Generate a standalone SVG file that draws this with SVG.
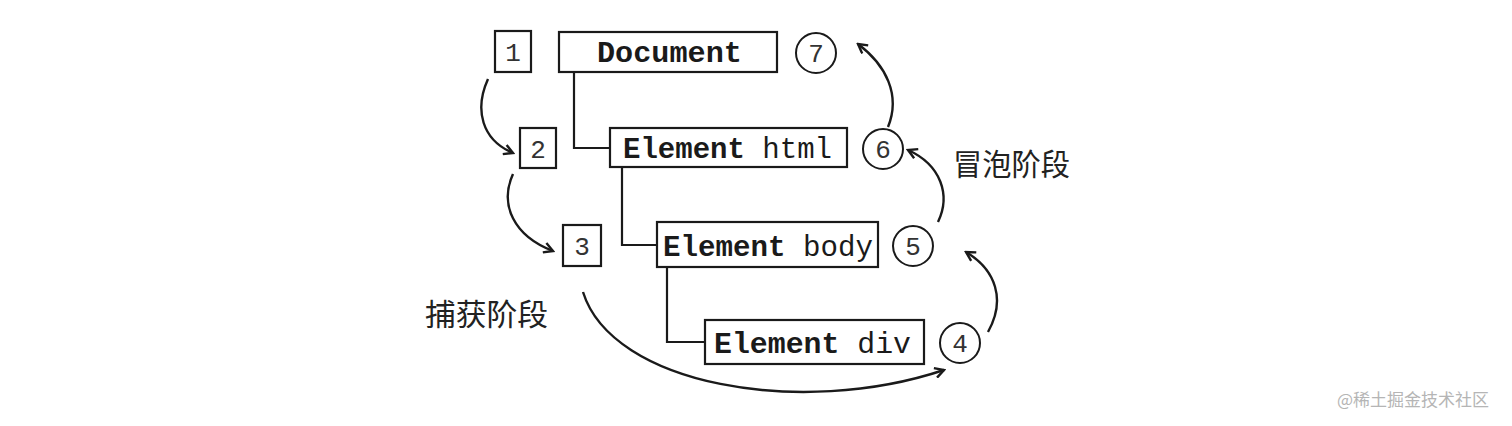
<svg xmlns="http://www.w3.org/2000/svg" width="1512" height="426" viewBox="0 0 1512 426">
<style>
.box{fill:#fff;stroke:#1a1a1a;stroke-width:2.2}
.circ{fill:#fff;stroke:#1a1a1a;stroke-width:2}
.mono{font-family:"Liberation Mono","DejaVu Sans Mono",monospace;fill:#1a1a1a}
.b{font-weight:bold}
.num{font-family:"Liberation Mono","DejaVu Sans Mono",monospace;font-size:26px;fill:#333;text-anchor:middle}
.cn{font-family:"Noto Sans CJK SC","Noto Sans",sans-serif;font-size:30px;fill:#222}
.link{fill:none;stroke:#1a1a1a;stroke-width:2.2}
.arr{fill:none;stroke:#1a1a1a;stroke-width:2.4;marker-end:url(#ah)}
</style>
<defs>
<marker id="ah" viewBox="0 0 12 12" refX="10" refY="6" markerWidth="12" markerHeight="12" markerUnits="userSpaceOnUse" orient="auto">
<path d="M1,1 L10,6 L1,11" fill="none" stroke="#1a1a1a" stroke-width="2.4"/>
</marker>
</defs>
<rect width="1512" height="426" fill="#fff"/>
<g id="connectors">
<path class="link" d="M574,72 V148 H610"/>
<path class="link" d="M622,167 V245 H657"/>
<path class="link" d="M667,267 V342 H705"/>
<path class="arr" d="M488,79 C474,110 482,140 513,153"/>
<path class="arr" d="M513,174 C499,205 514,236 553,251"/>
<path class="arr" d="M583,292 C612,385 800,418 944,370"/>
<path class="arr" d="M988,332 C1006,300 996,270 966,252"/>
<path class="arr" d="M938,222 C951,195 941,165 908,150"/>
<path class="arr" d="M888,127 C901,95 886,65 858,44"/>
</g>
<g id="n1"><rect class="box" x="495" y="31" width="36" height="41"/><text class="num" x="513" y="61">1</text></g>
<g id="n2"><rect class="box" x="520" y="128" width="36" height="40"/><text class="num" x="538" y="158">2</text></g>
<g id="n3"><rect class="box" x="563" y="225" width="38" height="41"/><text class="num" x="582" y="255">3</text></g>
<g id="document"><rect class="box" x="559" y="32" width="218" height="40"/><text class="mono b" x="597" y="62" font-size="29" textLength="145" lengthAdjust="spacingAndGlyphs">Document</text></g>
<g id="html"><rect class="box" x="610" y="128" width="237" height="39"/><text class="mono" x="623" y="158" font-size="29" textLength="209" lengthAdjust="spacingAndGlyphs"><tspan class="b">Element</tspan> html</text></g>
<g id="body"><rect class="box" x="657" y="222" width="221" height="45"/><text class="mono" x="663" y="256" font-size="29" textLength="210" lengthAdjust="spacingAndGlyphs"><tspan class="b">Element</tspan> body</text></g>
<g id="div"><rect class="box" x="705" y="320" width="219" height="44"/><text class="mono" x="714" y="353" font-size="29" textLength="197" lengthAdjust="spacingAndGlyphs"><tspan class="b">Element</tspan> div</text></g>
<g id="c7"><circle class="circ" cx="816" cy="53" r="20"/><text class="num" x="816" y="62">7</text></g>
<g id="c6"><circle class="circ" cx="883" cy="149" r="20"/><text class="num" x="883" y="158">6</text></g>
<g id="c5"><circle class="circ" cx="913" cy="246" r="20"/><text class="num" x="913" y="255">5</text></g>
<g id="c4"><circle class="circ" cx="960" cy="343" r="20"/><text class="num" x="960" y="352">4</text></g>
<g id="capture"><text class="cn" x="425" y="325" textLength="123" lengthAdjust="spacingAndGlyphs">捕获阶段</text></g>
<g id="bubble"><text class="cn" x="953" y="175" textLength="117" lengthAdjust="spacingAndGlyphs">冒泡阶段</text></g>
<text x="1337" y="406" font-family="Noto Sans CJK SC,Noto Sans,sans-serif" font-size="17" fill="#b5b5b5">@稀土掘金技术社区</text>
</svg>
